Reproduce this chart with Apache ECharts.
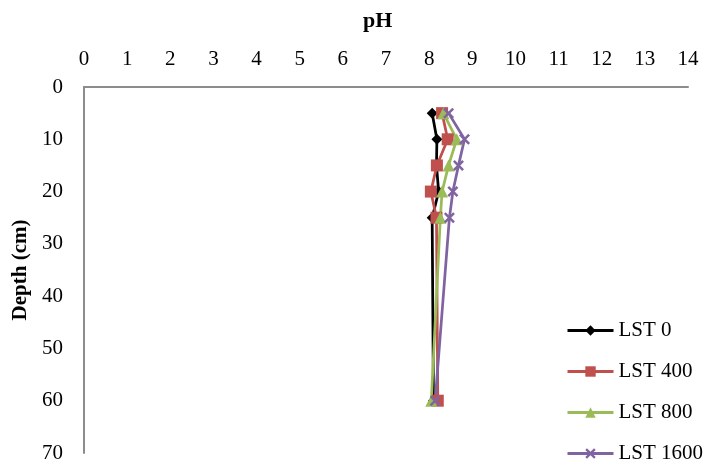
<!DOCTYPE html>
<html>
<head>
<meta charset="utf-8">
<script src="https://cdn.jsdelivr.net/npm/echarts@6/dist/echarts.min.js"></script>
<style>html,body{margin:0;padding:0;background:#fff}#c{width:713px;height:466px}</style>
</head>
<body>
<div id="c"></div>
<script>
var depths = [5, 10, 15, 20, 25, 60];
var lst0 = [8.07, 8.18, 8.17, 8.22, 8.07, 8.1];
var lst400 = [8.3, 8.43, 8.18, 8.04, 8.17, 8.2];
var lst800 = [8.33, 8.64, 8.45, 8.3, 8.26, 8.05];
var lst1600 = [8.45, 8.82, 8.68, 8.55, 8.47, 8.14];
var xTicks = [0,1,2,3,4,5,6,7,8,9,10,11,12,13,14];
var yTicks = [0,10,20,30,40,50,60,70];

var font = '"Liberation Serif", "Times New Roman", serif';
function pairs(v){ return v.map(function(x,i){ return [x, depths[i]]; }); }
var xSym = 'path://M0,1.6L1.6,0L5,3.4L8.4,0L10,1.6L6.6,5L10,8.4L8.4,10L5,6.6L1.6,10L0,8.4L3.4,5Z';
function mk(name, data, color, symbol, size){
  return {name:name, type:'line', data:pairs(data), symbol:symbol, symbolSize:size,
    showSymbol:true, lineStyle:{color:color, width:2.75}, itemStyle:{color:color},
    emphasis:{disabled:true}, z: 2};
}
var chart = echarts.init(document.getElementById('c'));
chart.setOption({
  animation:false,
  title:{text:'pH', left:358, top:5,
    textStyle:{fontFamily:font, fontSize:22, fontWeight:'bold', color:'#000'}},
  grid:{left:84, top:87, right:25, bottom:13},
  legend:{
    orient:'vertical', left:566, top:320, padding:0, itemGap:20, itemWidth:46, itemHeight:13,
    lineStyle:{width:3},
    textStyle:{fontFamily:font, fontSize:21, lineHeight:21, color:'#000'},
    data:['LST 0','LST 400','LST 800','LST 1600']
  },
  xAxis:{
    type:'value', position:'top', min:0, max:14, interval:1,
    axisLine:{show:true, lineStyle:{color:'#8c8c8c', width:2}},
    axisTick:{show:false}, splitLine:{show:false},
    axisLabel:{fontFamily:font, fontSize:21, color:'#000', margin:17,
      formatter:function(v){ return xTicks.indexOf(v)>=0 ? String(v) : ''; }}
  },
  yAxis:{
    type:'value', inverse:true, min:0, max:70, interval:10,
    name:'Depth (cm)', nameLocation:'middle', nameGap:51, nameRotate:90,
    nameTextStyle:{fontFamily:font, fontSize:21, fontWeight:'bold', color:'#000'},
    axisLine:{show:true, lineStyle:{color:'#8c8c8c', width:2}},
    axisTick:{show:false}, splitLine:{show:false},
    axisLabel:{fontFamily:font, fontSize:21, color:'#000', margin:21,
      formatter:function(v){ return yTicks.indexOf(v)>=0 ? String(v) : ''; }}
  },
  series:[
    mk('LST 0', lst0, '#000000', 'diamond', 11),
    mk('LST 400', lst400, '#C0504D', 'rect', 12),
    mk('LST 800', lst800, '#9BBB59', 'triangle', 12),
    mk('LST 1600', lst1600, '#8064A2', xSym, 11)
  ]
});
</script>
</body>
</html>
